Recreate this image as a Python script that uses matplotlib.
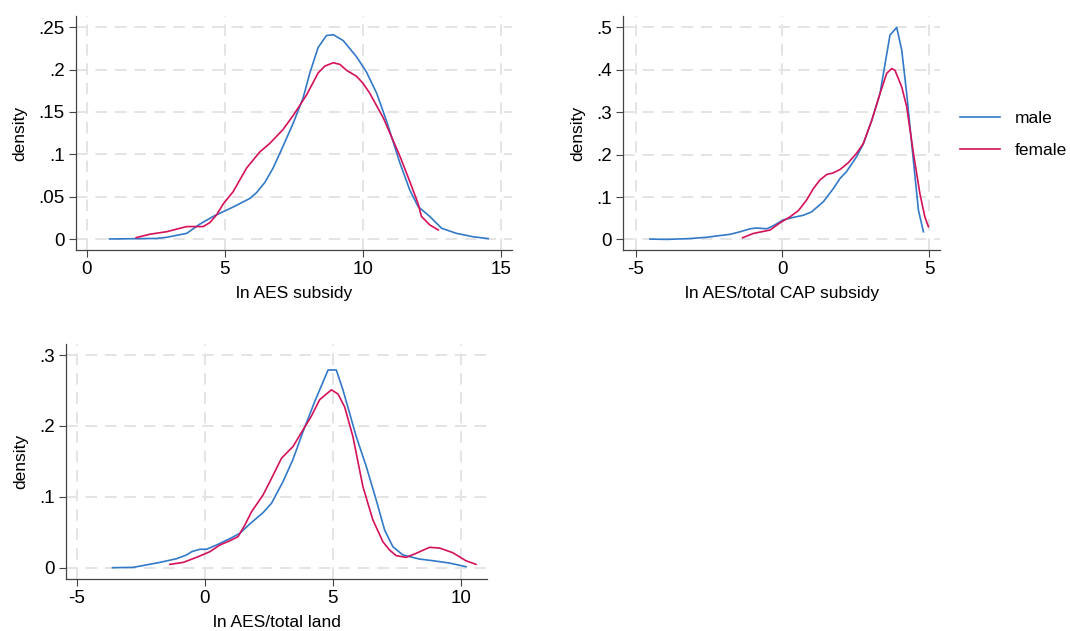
import numpy as np
import matplotlib
matplotlib.use("Agg")
import matplotlib.pyplot as plt

plt.rcParams['font.family'] = ['Liberation Sans', 'DejaVu Sans']

blue = '#3279c8'
red = '#d41159'

# panel 1: ln AES subsidy
x1_male = [0.82, 2.53, 2.9, 3.62, 4.1, 4.58, 5.3, 5.9, 6.15, 6.45, 6.75, 7.1, 7.48, 7.84, 8.08,
           8.38, 8.68, 8.93, 9.29, 9.77, 10.13, 10.5, 10.86, 11.34, 11.7, 12.0, 12.42, 12.85,
           13.39, 13.99, 14.54]
y1_male = [0.0004, 0.001, 0.0024, 0.007, 0.018, 0.027, 0.038, 0.048, 0.055, 0.067, 0.084, 0.109,
           0.137, 0.167, 0.196, 0.226, 0.240, 0.241, 0.234, 0.215, 0.197, 0.172, 0.139, 0.090,
           0.058, 0.0385, 0.027, 0.013, 0.007, 0.003, 0.0008]
x1_female = [1.79, 2.29, 2.9, 3.62, 4.22, 4.46, 4.7, 4.95, 5.3, 5.79, 6.27, 6.63, 7.1, 7.48, 7.96,
             8.38, 8.62, 8.93, 9.17, 9.41, 9.77, 10.0, 10.25, 10.74, 11.34, 11.7, 12.0, 12.12,
             12.42, 12.73]
y1_female = [0.002, 0.006, 0.009, 0.015, 0.015, 0.0197, 0.0287, 0.042, 0.056, 0.084, 0.103, 0.113,
             0.129, 0.146, 0.170, 0.196, 0.204, 0.208, 0.206, 0.199, 0.192, 0.184, 0.172, 0.143,
             0.098, 0.068, 0.042, 0.027, 0.017, 0.011]

# panel 2: ln AES/total CAP subsidy
x2_male = [-4.51, -3.94, -3.15, -2.58, -2.13, -1.78, -1.44, -1.1, -0.88, -0.53, -0.31, 0.03, 0.38,
           0.72, 1.0, 1.4, 1.74, 1.97, 2.19, 2.53, 2.76, 3.05, 3.33, 3.67, 3.9, 4.07, 4.24, 4.41,
           4.64, 4.81]
y2_male = [0.0008, 0.0, 0.002, 0.005, 0.009, 0.012, 0.018, 0.025, 0.027, 0.025, 0.032, 0.046, 0.052,
           0.057, 0.065, 0.089, 0.12, 0.144, 0.16, 0.195, 0.225, 0.281, 0.344, 0.482, 0.5, 0.447,
           0.344, 0.226, 0.069, 0.018]
x2_female = [-1.35, -0.99, -0.42, -0.08, 0.26, 0.55, 0.83, 1.06, 1.28, 1.51, 1.74, 1.97, 2.25, 2.53,
             2.76, 3.05, 3.33, 3.56, 3.73, 3.84, 4.07, 4.24, 4.47, 4.69, 4.86, 4.98]
y2_female = [0.004, 0.014, 0.022, 0.039, 0.053, 0.068, 0.093, 0.12, 0.14, 0.153, 0.157, 0.165, 0.181,
             0.203, 0.226, 0.281, 0.344, 0.392, 0.403, 0.399, 0.36, 0.313, 0.203, 0.108, 0.053, 0.03]

# panel 3: ln AES/total land
x3_male = [-3.6, -2.79, -2.27, -1.75, -1.1, -0.71, -0.51, -0.19, 0.07, 0.46, 0.98, 1.37, 1.76, 2.28,
           2.61, 3.06, 3.45, 3.84, 4.3, 4.82, 5.14, 5.4, 5.92, 6.31, 6.7, 7.03, 7.35, 7.74, 8.39,
           8.91, 9.56, 10.21]
y3_male = [0.0, 0.0005, 0.004, 0.0075, 0.0127, 0.018, 0.0226, 0.026, 0.026, 0.032, 0.041, 0.0485,
           0.0617, 0.0777, 0.091, 0.1215, 0.153, 0.192, 0.2346, 0.279, 0.279, 0.251, 0.185, 0.143,
           0.0956, 0.053, 0.0297, 0.018, 0.0122, 0.0099, 0.0066, 0.0014]
x3_female = [-1.36, -0.84, -0.32, 0.2, 0.59, 0.98, 1.3, 1.57, 1.83, 2.28, 2.61, 3.0, 3.45, 3.84,
             4.16, 4.49, 4.95, 5.21, 5.47, 5.79, 6.18, 6.57, 6.96, 7.22, 7.48, 7.87, 8.26, 8.78,
             9.17, 9.69, 10.2, 10.6]
y3_female = [0.0047, 0.0075, 0.0146, 0.0226, 0.032, 0.038, 0.0438, 0.0603, 0.079, 0.1027, 0.126,
             0.1545, 0.171, 0.1945, 0.2134, 0.237, 0.251, 0.245, 0.2265, 0.185, 0.1145, 0.0674,
             0.0367, 0.025, 0.017, 0.0146, 0.0203, 0.0287, 0.0278, 0.0212, 0.0099, 0.0047]

panels = [
    dict(pos=[0.0710, 0.6038, 0.4075, 0.3708], xm=x1_male, ym=y1_male, xf=x1_female, yf=y1_female,
         xlim=(-0.39, 15.4), ylim=(-0.0126, 0.263), xt=[0, 5, 10, 15],
         yt=[0, 0.05, 0.1, 0.15, 0.2, 0.25], ytl=['0', '.05', '.1', '.15', '.2', '.25'],
         xlabel='ln AES subsidy'),
    dict(pos=[0.5825, 0.6038, 0.2960, 0.3708], xm=x2_male, ym=y2_male, xf=x2_female, yf=y2_female,
         xlim=(-5.42, 5.375), ylim=(-0.025, 0.527), xt=[-5, 0, 5],
         yt=[0, 0.1, 0.2, 0.3, 0.4, 0.5], ytl=['0', '.1', '.2', '.3', '.4', '.5'],
         xlabel='ln AES/total CAP subsidy'),
    dict(pos=[0.0617, 0.0829, 0.3937, 0.3719], xm=x3_male, ym=y3_male, xf=x3_female, yf=y3_female,
         xlim=(-5.42, 11.04), ylim=(-0.0155, 0.3156), xt=[-5, 0, 5, 10],
         yt=[0, 0.1, 0.2, 0.3], ytl=['0', '.1', '.2', '.3'],
         xlabel='ln AES/total land'),
]

fig = plt.figure(figsize=(10.7, 6.31), dpi=100)

for p in panels:
    ax = fig.add_axes(p['pos'])
    ax.set_xlim(p['xlim'])
    ax.set_ylim(p['ylim'])
    for v in p['xt']:
        ax.axvline(v, color='#e4e4e4', lw=1.4, ls=(0, (6, 4)), zorder=0)
    for v in p['yt']:
        ax.axhline(v, color='#e4e4e4', lw=1.4, ls=(0, (6, 4)), zorder=0)
    lm, = ax.plot(p['xm'], p['ym'], color=blue, lw=1.2, label='male')
    lf, = ax.plot(p['xf'], p['yf'], color=red, lw=1.2, label='female')
    ax.set_xticks(p['xt'])
    ax.set_xticklabels([str(v) for v in p['xt']])
    ax.set_yticks(p['yt'])
    ax.set_yticklabels(p['ytl'])
    ax.tick_params(labelsize=13.5, length=5, width=0.8, color='#444444', pad=3)
    for s in ['top', 'right']:
        ax.spines[s].set_visible(False)
    for s in ['left', 'bottom']:
        ax.spines[s].set_color('#444444')
        ax.spines[s].set_linewidth(0.9)
    ax.set_xlabel(p['xlabel'], fontsize=12.5, labelpad=6)
    ax.set_ylabel('density', fontsize=12.5, labelpad=8)

fig.legend(handles=[lm, lf], labels=['male', 'female'], loc='upper left',
           bbox_to_anchor=(0.897, 0.824), frameon=False, fontsize=12.5, borderpad=0,
           borderaxespad=0, handlelength=2.3, handletextpad=0.85, labelspacing=0.95)

fig.savefig('out.png', dpi=100)
